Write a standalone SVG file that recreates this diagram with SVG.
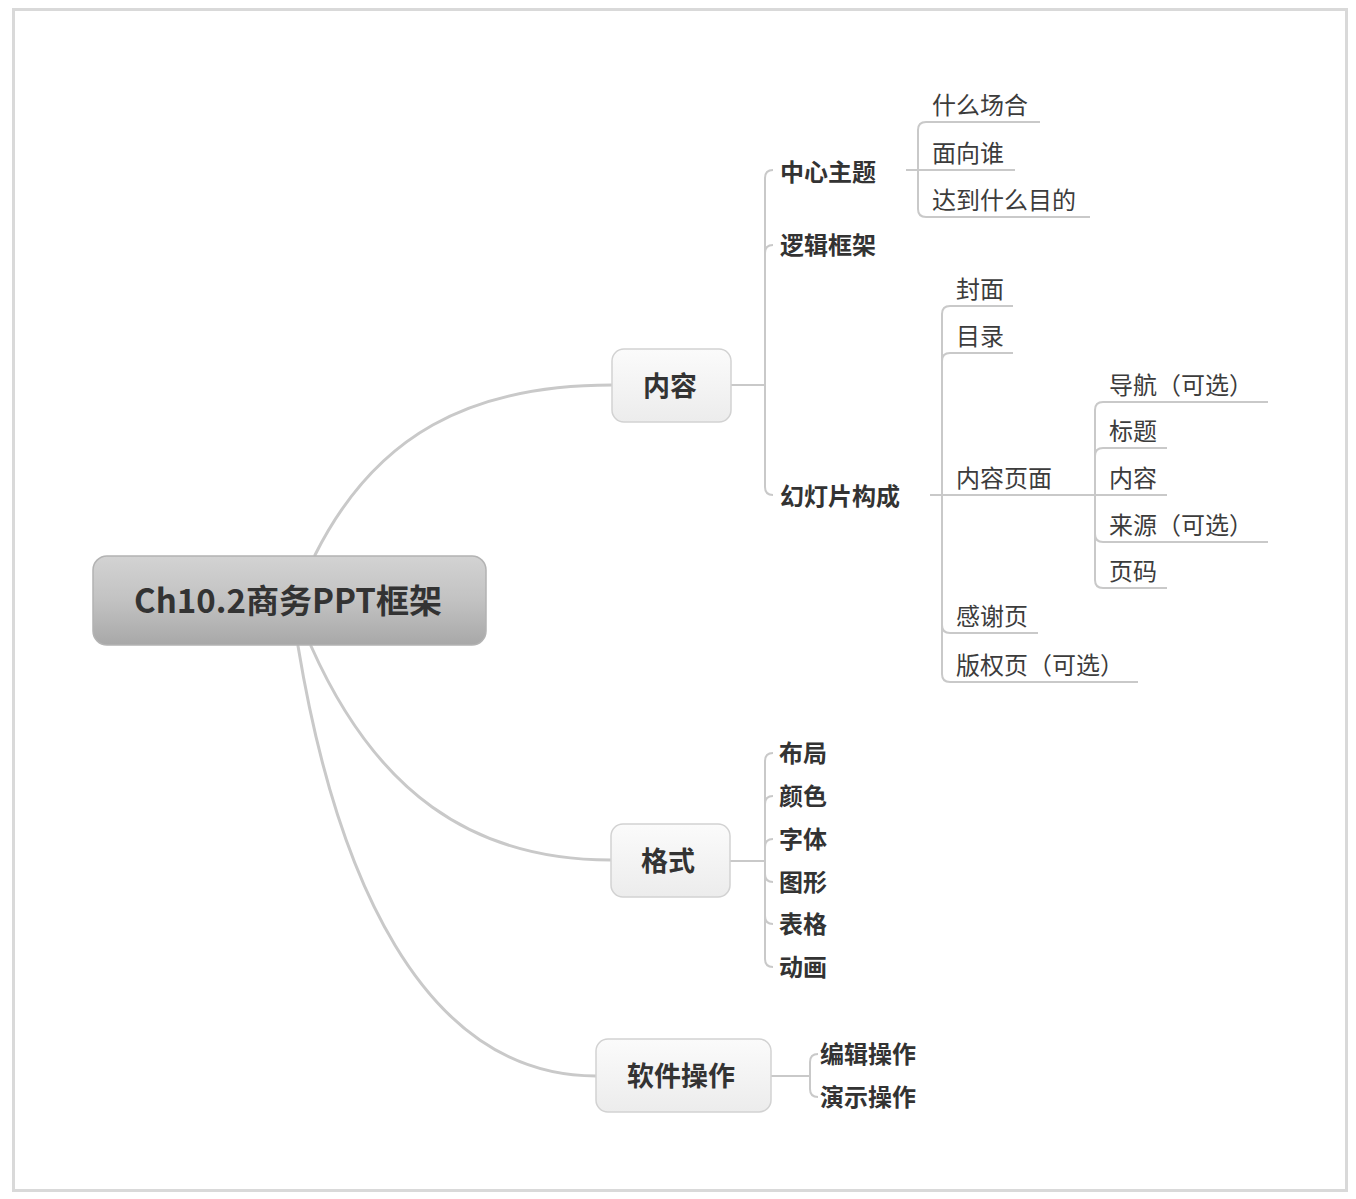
<svg xmlns="http://www.w3.org/2000/svg" width="1356" height="1199" viewBox="0 0 1356 1199">
<defs>
<linearGradient id="rootGrad" x1="0" y1="0" x2="0" y2="1">
<stop offset="0" stop-color="#d3d3d3"/>
<stop offset="0.5" stop-color="#c2c2c2"/>
<stop offset="1" stop-color="#a8a8a8"/>
</linearGradient>
<linearGradient id="nodeGrad" x1="0" y1="0" x2="0" y2="1">
<stop offset="0" stop-color="#fbfbfb"/>
<stop offset="1" stop-color="#ececec"/>
</linearGradient>
</defs>
<style>
.frame{fill:#fff;stroke:#d9d9d9;stroke-width:3}
.curve{fill:none;stroke:#c9c9c9;stroke-width:3;stroke-linecap:round}
.ln{fill:none;stroke:#c9c9c9;stroke-width:2}
.root{fill:url(#rootGrad);stroke:#b3b3b3;stroke-width:1.5}
.box{fill:url(#nodeGrad);stroke:#d2d2d2;stroke-width:1.5}
text{font-family:"Noto Sans CJK SC","Noto Sans",sans-serif;dominant-baseline:central}
.rt{font-size:33px;font-weight:bold;fill:#333;text-anchor:middle}
.nt{font-size:27px;font-weight:bold;fill:#333;text-anchor:middle}
.bt{font-size:24px;font-weight:bold;fill:#333}
.tt{font-size:24px;font-weight:normal;fill:#3c3c3c}
</style>
<rect class="frame" x="13.5" y="9.5" width="1333" height="1181"/>
<g id="connectors">
<path class="curve" d="M315,555 C375,435 470,385 612,385"/>
<path class="curve" d="M311,646 C375,790 470,860 611,860"/>
<path class="curve" d="M298,646 C335,870 420,1076 596,1076"/>
<path class="ln" d="M731,385 H765"/>
<path class="ln" d="M765,385 V178 Q765,170 773,170"/>
<path class="ln" d="M765,385 V253 Q765,245 773,245"/>
<path class="ln" d="M765,385 V487 Q765,495 773,495"/>
<path class="ln" d="M906,170 H918"/>
<path class="ln" d="M918,170 V130 Q918,122 926,122 H1040"/>
<path class="ln" d="M918,170 H1015"/>
<path class="ln" d="M918,170 V209 Q918,217 926,217 H1090"/>
<path class="ln" d="M930,495 H942"/>
<path class="ln" d="M942,495 V314 Q942,306 950,306 H1013"/>
<path class="ln" d="M942,495 V361 Q942,353 950,353 H1013"/>
<path class="ln" d="M942,495 H1095"/>
<path class="ln" d="M942,495 V625 Q942,633 950,633 H1038"/>
<path class="ln" d="M942,495 V674 Q942,682 950,682 H1138"/>
<path class="ln" d="M1095,495 V410 Q1095,402 1103,402 H1268"/>
<path class="ln" d="M1095,495 V456 Q1095,448 1103,448 H1167"/>
<path class="ln" d="M1095,495 H1167"/>
<path class="ln" d="M1095,495 V534 Q1095,542 1103,542 H1268"/>
<path class="ln" d="M1095,495 V580 Q1095,588 1103,588 H1167"/>
<path class="ln" d="M730,861 H765"/>
<path class="ln" d="M765,861 V761 Q765,753 773,753"/>
<path class="ln" d="M765,861 V804 Q765,796 773,796"/>
<path class="ln" d="M765,861 V847 Q765,839 773,839"/>
<path class="ln" d="M765,861 V874 Q765,882 773,882"/>
<path class="ln" d="M765,861 V916 Q765,924 773,924"/>
<path class="ln" d="M765,861 V959 Q765,967 773,967"/>
<path class="ln" d="M771,1076 H810"/>
<path class="ln" d="M810,1076 V1062 Q810,1054 818,1054"/>
<path class="ln" d="M810,1076 V1089 Q810,1097 818,1097"/>
</g>
<g id="root"><rect class="root" x="93" y="556" width="393" height="89" rx="14"/><text class="rt" x="288" y="599">Ch10.2商务PPT框架</text></g>
<g id="n-neirong"><rect class="box" x="612" y="349" width="119" height="73" rx="12"/><text class="nt" x="670" y="384">内容</text></g>
<g id="n-geshi"><rect class="box" x="611" y="824" width="119" height="73" rx="12"/><text class="nt" x="668" y="859">格式</text></g>
<g id="n-ruanjian"><rect class="box" x="596" y="1039" width="175" height="73" rx="12"/><text class="nt" x="681" y="1074">软件操作</text></g>
<g id="n-zhongxin"><text class="bt" x="780" y="170">中心主题</text></g>
<g id="n-luoji"><text class="bt" x="780" y="243">逻辑框架</text></g>
<g id="n-huandeng"><text class="bt" x="780" y="494">幻灯片构成</text></g>
<g id="n-c1"><text class="tt" x="932" y="103">什么场合</text></g>
<g id="n-c2"><text class="tt" x="932" y="151">面向谁</text></g>
<g id="n-c3"><text class="tt" x="932" y="198">达到什么目的</text></g>
<g id="n-s1"><text class="tt" x="956" y="287">封面</text></g>
<g id="n-s2"><text class="tt" x="956" y="334">目录</text></g>
<g id="n-s3"><text class="tt" x="956" y="476">内容页面</text></g>
<g id="n-s4"><text class="tt" x="956" y="614">感谢页</text></g>
<g id="n-s5"><text class="tt" x="956" y="663">版权页（可选）</text></g>
<g id="n-p1"><text class="tt" x="1109" y="383">导航（可选）</text></g>
<g id="n-p2"><text class="tt" x="1109" y="429">标题</text></g>
<g id="n-p3"><text class="tt" x="1109" y="476">内容</text></g>
<g id="n-p4"><text class="tt" x="1109" y="523">来源（可选）</text></g>
<g id="n-p5"><text class="tt" x="1109" y="569">页码</text></g>
<g id="n-g1"><text class="bt" x="779" y="751">布局</text></g>
<g id="n-g2"><text class="bt" x="779" y="794">颜色</text></g>
<g id="n-g3"><text class="bt" x="779" y="837">字体</text></g>
<g id="n-g4"><text class="bt" x="779" y="880">图形</text></g>
<g id="n-g5"><text class="bt" x="779" y="922">表格</text></g>
<g id="n-g6"><text class="bt" x="779" y="965">动画</text></g>
<g id="n-r1"><text class="bt" x="820" y="1052">编辑操作</text></g>
<g id="n-r2"><text class="bt" x="820" y="1095">演示操作</text></g>
</svg>
